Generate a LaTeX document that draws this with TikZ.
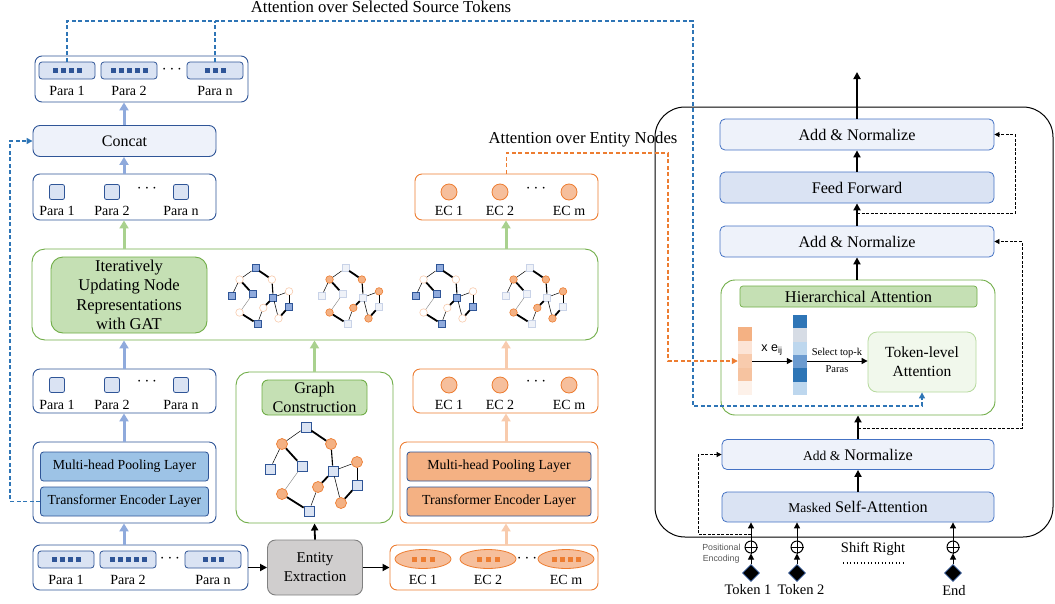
\documentclass[tikz,border=0pt]{standalone}
\usepackage{fontspec}
\setmainfont{Liberation Serif}
\setsansfont{Liberation Sans}
\usetikzlibrary{arrows.meta,shapes.geometric,calc}
\definecolor{dblue}{HTML}{2F5597}
\definecolor{lblue}{HTML}{DAE3F3}
\definecolor{pblue}{HTML}{9DC3E6}
\definecolor{ablue}{HTML}{8FAADC}
\definecolor{dashblue}{HTML}{2E75B6}
\definecolor{orng}{HTML}{ED7D31}
\definecolor{lorng}{HTML}{F4B183}
\definecolor{aorng}{HTML}{F8CBAD}
\definecolor{ecfill}{HTML}{F6BF9C}
\definecolor{grn}{HTML}{70AD47}
\definecolor{lgrn}{HTML}{C5E0B4}
\definecolor{agrn}{HTML}{A9D18E}
\definecolor{decb}{HTML}{4472C4}
\definecolor{vlblue}{HTML}{EEF2FA}
\definecolor{entgray}{HTML}{D0CECE}
\definecolor{tlfill}{HTML}{F1F8EC}
\definecolor{tlline}{HTML}{B5D99C}
\definecolor{psqf}{HTML}{EFF2F8}
\definecolor{psqd}{HTML}{C9D3E8}
\definecolor{oca}{HTML}{F4B183}
\definecolor{ocb}{HTML}{FCE4D6}
\definecolor{occ}{HTML}{F8CBAD}
\definecolor{ocd}{HTML}{F6C3A0}
\definecolor{oce}{HTML}{FDF1E9}
\definecolor{bca}{HTML}{2E75B6}
\definecolor{bcb}{HTML}{D6DCE5}
\definecolor{bcc}{HTML}{BDD7EE}
\definecolor{bcd}{HTML}{6B9BD0}
\definecolor{posgray}{HTML}{595959}

\tikzset{
  bx/.style={draw=dblue, line width=0.9pt, rounded corners=7pt, inner sep=0pt, fill=white},
  obx/.style={draw=orng, line width=0.9pt, rounded corners=7pt, inner sep=0pt, fill=white},
  gbx/.style={draw=grn, line width=0.9pt, rounded corners=13pt, inner sep=0pt, fill=white},
  item/.style={draw=dblue, fill=lblue, line width=0.8pt, rounded corners=3pt, minimum width=56pt, minimum height=17pt, inner sep=0pt},
  sqitem/.style={draw=dblue, fill=lblue, line width=0.8pt, rounded corners=2pt, minimum size=15pt, inner sep=0pt},
  ecitem/.style={circle, draw=orng, fill=ecfill, line width=0.8pt, minimum size=16pt, inner sep=0pt},
  ellitem/.style={ellipse, draw=orng, fill=ecfill, line width=0.8pt, minimum width=56pt, minimum height=19pt, inner sep=0pt},
  lbl/.style={font=\fontsize{14}{16}\selectfont, inner sep=0pt},
  dts/.style={font=\fontsize{16}{16}\selectfont, inner sep=0pt},
  tinyb/.style={fill=dblue, minimum size=5pt, inner sep=0pt},
  tinyo/.style={fill=orng, minimum size=5pt, inner sep=0pt},
  layerb/.style={draw=dblue, fill=pblue, line width=0.8pt, rounded corners=3pt, minimum width=168pt, minimum height=29pt, inner sep=0pt, font=\fontsize{13.8}{15}\selectfont},
  layero/.style={draw=dblue, fill=lorng, line width=0.8pt, rounded corners=3pt, minimum width=184pt, minimum height=29pt, inner sep=0pt, font=\fontsize{13.8}{15}\selectfont},
  barr/.style={-{Triangle[length=8pt,width=9pt]}, line width=3pt, draw=ablue},
  oarr/.style={-{Triangle[length=8pt,width=9pt]}, line width=3pt, draw=aorng},
  garr/.style={-{Triangle[length=8pt,width=9pt]}, line width=3pt, draw=agrn},
  karr/.style={-{Triangle[length=7pt,width=7pt]}, line width=1.8pt, draw=black},
  kthin/.style={-{Triangle[length=6pt,width=6pt]}, line width=1pt, draw=black},
  bdash/.style={draw=dashblue, line width=1.3pt, dash pattern=on 4pt off 2.5pt},
  odash/.style={draw=orng, line width=1.3pt, dash pattern=on 4pt off 2.5pt},
  kdash/.style={draw=black, line width=0.8pt, dash pattern=on 3pt off 1.5pt},
  decbox/.style={draw=decb, line width=0.8pt, rounded corners=5pt, minimum width=274pt, minimum height=31pt, inner sep=0pt, font=\fontsize{16.2}{18}\selectfont},
  sqL/.style={rectangle, draw=dblue, fill=lblue, line width=0.7pt, minimum size=10pt, inner sep=0pt},
  ciL/.style={circle, draw=orng, fill=lorng, line width=0.7pt, minimum size=11pt, inner sep=0pt},
  sqD/.style={rectangle, draw=dblue, fill=ablue, line width=0.6pt, minimum size=7pt, inner sep=0pt},
  sqP/.style={rectangle, draw=psqd, fill=psqf, line width=0.6pt, minimum size=7pt, inner sep=0pt},
  ciO/.style={circle, draw=orng, fill=lorng, line width=0.6pt, minimum size=7.5pt, inner sep=0pt},
  ciP/.style={circle, draw=aorng, fill=white, line width=0.6pt, minimum size=7.5pt, inner sep=0pt},
  ethick/.style={line width=1.8pt},
  emed/.style={line width=1.1pt},
  ethin/.style={line width=0.5pt},
  egray/.style={line width=0.4pt, draw=gray},
}

\newcommand{\minigraph}[6]{%
  \begin{scope}[shift={(#2,#3)}]
    \node[#5] (#1A) at ({-7*#4},{-42*#4}) {};
    \node[#6] (#1B) at ({-31*#4},{-25*#4}) {};
    \node[#6] (#1C) at ({18*#4},{-25*#4}) {};
    \node[#5] (#1D) at ({-43*#4},{0}) {};
    \node[#5] (#1E) at ({-11*#4},{-3*#4}) {};
    \node[#5] (#1F) at ({20*#4},{2*#4}) {};
    \node[#6] (#1G) at ({44*#4},{-7*#4}) {};
    \node[#6] (#1H) at ({5*#4},{18*#4}) {};
    \node[#5] (#1I) at ({44*#4},{16*#4}) {};
    \node[#6] (#1J) at ({-31*#4},{25*#4}) {};
    \node[#6] (#1K) at ({28*#4},{34*#4}) {};
    \node[#5] (#1L) at ({-4*#4},{42*#4}) {};
    \draw[ethin] (#1A) -- (#1B);
    \draw[ethick] (#1A) -- (#1C);
    \draw[ethin] (#1B) -- (#1D);
    \draw[ethick] (#1B) -- (#1E);
    \draw[emed] (#1C) -- (#1F);
    \draw[egray] (#1E) -- (#1J);
    \draw[ethick] (#1J) -- (#1L);
    \draw[ethin] (#1L) -- (#1H);
    \draw[ethick] (#1H) -- (#1F);
    \draw[ethin] (#1F) -- (#1G);
    \draw[ethin] (#1G) -- (#1I);
    \draw[ethick] (#1I) -- (#1K);
    \draw[ethin] (#1F) -- (#1K);
  \end{scope}}

\begin{document}
\begin{tikzpicture}[x=1pt,y=-1pt, font=\fontsize{14}{16}\selectfont]
\useasboundingbox (0,0) rectangle (1055,603);

% ---------------- decoder frame ----------------
\node[draw=black, line width=1pt, rounded corners=30pt, minimum width=398pt, minimum height=430pt, inner sep=0pt] (dec) at (854,322) {};

% ---------------- titles ----------------
\node[font=\fontsize{16.7}{18}\selectfont] (ttl1) at (381,7) {Attention over Selected Source Tokens};
\node[font=\fontsize{16.7}{18}\selectfont] (ttl2) at (583,140) {Attention over Entity Nodes};

% ---------------- left column ----------------
% top para box
\node[bx, minimum width=213pt, minimum height=46pt] (ptop) at (141.5,79) {};
\node[item] (pt1) at (67,70.5) {};
\node[item] (pt2) at (129,70.5) {};
\node[item] (ptn) at (215,70.5) {};
\foreach \i in {1,...,4} \node[tinyb] (pt1s\i) at ($(pt1)+({(\i-2.5)*8},0)$) {};
\foreach \i in {1,...,5} \node[tinyb] (pt2s\i) at ($(pt2)+({(\i-3)*8},0)$) {};
\foreach \i in {1,...,3} \node[tinyb] (ptns\i) at ($(ptn)+({(\i-2)*8},0)$) {};
\node[lbl] (ptl1) at (67,91) {Para 1};
\node[lbl] (ptl2) at (129,91) {Para 2};
\node[lbl] (ptln) at (215,91) {Para n};
\node[dts] (ptd) at (172,70) {$\cdots$};

% concat
\node[bx, minimum width=183pt, minimum height=31pt, font=\fontsize{16}{18}\selectfont, fill=vlblue] (concat) at (124.5,141) {Concat};

% para row 2
\node[bx, minimum width=183pt, minimum height=46pt] (prow2) at (124.5,197) {};
\node[sqitem] (r2a) at (57,192) {};
\node[sqitem] (r2b) at (112,192) {};
\node[sqitem] (r2n) at (181,192) {};
\node[lbl] (r2la) at (57,211) {Para 1};
\node[lbl] (r2lb) at (112,211) {Para 2};
\node[lbl] (r2ln) at (181,211) {Para n};
\node[dts] (r2d) at (147,189) {$\cdots$};

% GAT box
\node[gbx, minimum width=566pt, minimum height=91pt] (gat) at (315,294.5) {};
\node[draw=grn, fill=lgrn, line width=0.9pt, rounded corners=12pt, minimum width=156pt, minimum height=76pt, inner sep=0pt, align=center, font=\fontsize{16.5}{19.5}\selectfont] (gatl) at (129,295) {Iteratively\\Updating Node\\Representations\\with GAT};
\minigraph{ga}{260}{296}{0.66}{sqD}{ciP}
\minigraph{gb}{350}{296}{0.66}{sqP}{ciO}
\minigraph{gc}{444}{296}{0.66}{sqD}{ciP}
\minigraph{gd}{534}{296}{0.66}{sqP}{ciO}

% para row 3
\node[bx, minimum width=183pt, minimum height=44pt] (prow3) at (124.5,391) {};
\node[sqitem] (r3a) at (57,385) {};
\node[sqitem] (r3b) at (112,385) {};
\node[sqitem] (r3n) at (181,385) {};
\node[lbl] (r3la) at (57,405) {Para 1};
\node[lbl] (r3lb) at (112,405) {Para 2};
\node[lbl] (r3ln) at (181,405) {Para n};
\node[dts] (r3d) at (147,382) {$\cdots$};

% blue pooling stack
\node[bx, minimum width=183pt, minimum height=81pt] (bpool) at (124.5,482.5) {};
\node[layerb] (bmh) at (124.5,466.5) {Multi-head Pooling Layer};
\node[layerb] (btr) at (124.5,501.5) {Transformer Encoder Layer};

% bottom para box
\node[bx, minimum width=215pt, minimum height=45pt] (pbot) at (140.5,567.5) {};
\node[item] (pb1) at (66,559.5) {};
\node[item] (pb2) at (128,559.5) {};
\node[item] (pbn) at (213,559.5) {};
\foreach \i in {1,...,4} \node[tinyb] (pb1s\i) at ($(pb1)+({(\i-2.5)*8},0)$) {};
\foreach \i in {1,...,5} \node[tinyb] (pb2s\i) at ($(pb2)+({(\i-3)*8},0)$) {};
\foreach \i in {1,...,3} \node[tinyb] (pbns\i) at ($(pbn)+({(\i-2)*8},0)$) {};
\node[lbl] (pbl1) at (66,580) {Para 1};
\node[lbl] (pbl2) at (128,580) {Para 2};
\node[lbl] (pbln) at (213,580) {Para n};
\node[dts] (pbd) at (170,559) {$\cdots$};

% entity extraction
\node[draw=gray, fill=entgray, line width=0.9pt, rounded corners=8pt, minimum width=95pt, minimum height=55pt, inner sep=0pt, align=center, font=\fontsize{15}{19}\selectfont] (ent) at (315,567.5) {Entity\\Extraction};

% graph construction
\node[gbx, minimum width=157pt, minimum height=151pt] (gcon) at (314.5,447.5) {};
\node[draw=grn, fill=lgrn, line width=0.9pt, rounded corners=6pt, minimum width=105pt, minimum height=35pt, inner sep=0pt, align=center, font=\fontsize{16.2}{19}\selectfont] (gconl) at (314.5,397.5) {Graph\\Construction};
\minigraph{gg}{313}{469}{1}{sqL}{ciL}

% EC bottom box
\node[obx, minimum width=208pt, minimum height=45pt] (ecbot) at (494,567.5) {};
\node[ellitem] (eb1) at (423,559) {};
\node[ellitem] (eb2) at (488,559) {};
\node[ellitem] (ebm) at (566,559) {};
\foreach \i in {1,...,3} \node[tinyo] (eb1s\i) at ($(eb1)+({(\i-2)*9},0)$) {};
\foreach \i in {1,...,3} \node[tinyo] (eb2s\i) at ($(eb2)+({(\i-2)*9},0)$) {};
\foreach \i in {1,...,4} \node[tinyo] (ebms\i) at ($(ebm)+({(\i-2.5)*8},0)$) {};
\node[lbl] (ebl1) at (423,580) {EC 1};
\node[lbl] (ebl2) at (488,580) {EC 2};
\node[lbl] (eblm) at (566,580) {EC m};
\node[dts] (ebd) at (527,559) {$\cdots$};

% orange pooling stack
\node[obx, minimum width=198pt, minimum height=81pt] (opool) at (499,482.5) {};
\node[layero] (omh) at (499,466.5) {Multi-head Pooling Layer};
\node[layero] (otr) at (499,501.5) {Transformer Encoder Layer};

% EC row 3
\node[obx, minimum width=185pt, minimum height=44pt] (ecrow3) at (505.5,391) {};
\node[ecitem] (e3a) at (449,385) {};
\node[ecitem] (e3b) at (500,385) {};
\node[ecitem] (e3m) at (569,385) {};
\node[lbl] (e3la) at (449,405) {EC 1};
\node[lbl] (e3lb) at (500,405) {EC 2};
\node[lbl] (e3lm) at (569,405) {EC m};
\node[dts] (e3d) at (536,382) {$\cdots$};

% EC top
\node[obx, minimum width=183pt, minimum height=46pt] (ectop) at (506.5,197) {};
\node[ecitem] (eta) at (449,192) {};
\node[ecitem] (etb) at (500,192) {};
\node[ecitem] (etm) at (569,192) {};
\node[lbl] (etla) at (449,211) {EC 1};
\node[lbl] (etlb) at (500,211) {EC 2};
\node[lbl] (etlm) at (569,211) {EC m};
\node[dts] (etd) at (536,189) {$\cdots$};

% ---------------- left arrows ----------------
\draw[barr] (pbot.north -| 124,0) -- (bpool.south -| 124,0);
\draw[barr] (bpool.north -| 124,0) -- (prow3.south -| 124,0);
\draw[barr] (prow3.north -| 124,0) -- (gat.south -| 124,0);
\draw[garr] (gat.north -| 124,0) -- (prow2.south -| 124,0);
\draw[barr] (prow2.north -| 124,0) -- (concat.south -| 124,0);
\draw[barr] (concat.north -| 124,0) -- (ptop.south -| 124,0);
\draw[oarr] (ecbot.north -| 506,0) -- (opool.south -| 506,0);
\draw[oarr] (opool.north -| 506,0) -- (ecrow3.south -| 506,0);
\draw[oarr] (ecrow3.north -| 506,0) -- (gat.south -| 506,0);
\draw[garr] (gat.north -| 506,0) -- (ectop.south -| 506,0);
\draw[garr] (gcon.north) -- (gat.south -| gcon.north);
\draw[karr] (pbot.east) -- (ent.west);
\draw[karr] (ent.east) -- (ecbot.west);
\draw[karr] (ent.north) -- (gcon.south);

% ---------------- decoder ----------------
\node[decbox, fill=vlblue] (addt) at (857,134.5) {Add \& Normalize};
\node[decbox, fill=lblue] (ff) at (857,187.5) {Feed Forward};
\node[decbox, fill=vlblue] (add2) at (857,241.5) {Add \& Normalize};
\node[draw=grn, line width=0.9pt, rounded corners=14pt, minimum width=274pt, minimum height=135pt, inner sep=0pt, fill=white] (hier) at (858,347.5) {};
\node[draw=grn, fill=lgrn, line width=0.7pt, rounded corners=3pt, minimum width=237pt, minimum height=21pt, inner sep=0pt, font=\fontsize{16.4}{18}\selectfont] (hierl) at (858.5,296.5) {Hierarchical Attention};
\node[draw=tlline, fill=tlfill, line width=0.8pt, rounded corners=9pt, minimum width=108pt, minimum height=60pt, inner sep=0pt, align=center, font=\fontsize{15.5}{19}\selectfont] (tla) at (922,362) {Token-level\\Attention};
\node[decbox, minimum width=272pt, minimum height=30pt, fill=vlblue] (addl) at (858,454.5) {{\fontsize{13.5}{15}\selectfont Add \&} Normalize};
\node[decbox, minimum width=272pt, minimum height=30pt, fill=lblue] (msa) at (858,507) {{\fontsize{13.5}{15}\selectfont Masked} Self-Attention};

% columns
\node[minimum width=14pt, minimum height=68pt, inner sep=0pt] (ocol) at (745,361) {};
\foreach \c [count=\i] in {oca,ocb,occ,ocd,oce}
  \fill[\c] (738,{327+(\i-1)*13.6}) rectangle (752,{327+\i*13.6});
\node[minimum width=14pt, minimum height=80pt, inner sep=0pt] (bcol) at (800,355) {};
\foreach \c [count=\i] in {bca,bcb,bcc,bcd,bca,bcc}
  \fill[\c] (793,{315+(\i-1)*13.333}) rectangle (807,{315+\i*13.333});
\draw[kthin] (ocol.east) -- (bcol.west |- ocol.east);
\node[font=\sffamily\fontsize{12.5}{14}\selectfont] (exlbl) at (772,350) {x e\textsubscript{ij}};
\draw[kthin] (bcol.east |- ocol.east) -- (tla.west |- ocol.east);
\node[font=\fontsize{10.5}{11}\selectfont] (sel1) at (837,353) {Select top-k};
\node[font=\fontsize{10.5}{11}\selectfont] (sel2) at (837,369) {Paras};

% decoder arrows
\draw[karr] (msa.north) -- (addl.south);
\draw[karr] (addl.north) -- (hier.south -| addl.north);
\draw[karr] (hier.north -| add2.south) -- (add2.south);
\draw[karr] (add2.north) -- (ff.south);
\draw[karr] (ff.north) -- (addt.south);
\coordinate (outp) at (857,72);
\draw[karr] (addt.north) -- (outp);

% residual dashed
\coordinate (res1) at (751,534);
\coordinate (res2) at (858,428);
\coordinate (res3) at (857,213);
\draw[kdash,-{Triangle[length=5pt,width=5pt]}] (res1) -- (698,534) |- (addl.west);
\draw[kdash,-{Triangle[length=5pt,width=5pt]}] (res2) -- (1022,428) |- (add2.east);
\draw[kdash,-{Triangle[length=5pt,width=5pt]}] (res3) -- (1015,213) |- (addt.east);

% inputs
\foreach \n/\x in {a/751,b/797,c/953}{
  \node[circle, draw=black, line width=1pt, minimum size=12pt, inner sep=0pt] (op\n) at (\x,547) {};
  \draw[line width=1pt] (op\n.north) -- (op\n.south) (op\n.west) -- (op\n.east);
  \node[diamond, draw=dblue, fill=black, line width=0.6pt, minimum size=17pt, inner sep=0pt] (dm\n) at (\x,573) {};
  \draw[kthin] (dm\n.north) -- (op\n.south);
  \draw[kthin] (op\n.north) -- (msa.south -| op\n.north);
}
\node[font=\fontsize{14.5}{16}\selectfont] (tk1) at (748,590) {Token 1};
\node[font=\fontsize{14.5}{16}\selectfont] (tk2) at (801,590) {Token 2};
\node[font=\fontsize{14.5}{16}\selectfont] (tke) at (954,591) {End};
\node[font=\fontsize{14.5}{16}\selectfont] (shr) at (873,549) {Shift Right};
\coordinate (dotl) at (843,563);
\coordinate (dotr) at (903,563);
\draw[line width=1.2pt, dash pattern=on 1.2pt off 2.3pt] (dotl) -- (dotr);
\node[font=\sffamily\fontsize{8.8}{9}\selectfont, text=posgray, anchor=east] (pos1) at (744,547) {Positional};
\node[font=\sffamily\fontsize{8.8}{9}\selectfont, text=posgray, anchor=east] (pos2) at (743,559) {Encoding};

% ---------------- long dashed connectors ----------------
\coordinate (btop) at (693,21);
\coordinate (bbot) at (693,406);
\draw[bdash,-{Triangle[length=6pt,width=6pt]}] (pt1.north) |- (btop) -- (bbot) -| (tla.south);
\draw[bdash] (ptn.north) -- (ptn.north |- btop);
\draw[bdash,-{Triangle[length=6pt,width=6pt]}] (btr.west) -- (10,501.5) |- (concat.west);
\coordinate (otop) at (668,153);
\draw[odash,-{Triangle[length=6pt,width=6pt]}] (ectop.north) |- (otop) |- (ocol.west);

\end{tikzpicture}
\end{document}
